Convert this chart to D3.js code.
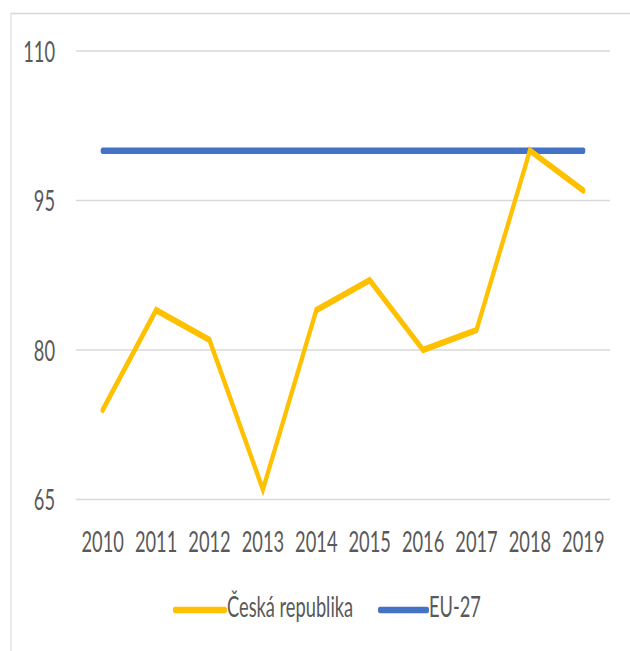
<!DOCTYPE html>
<html>
<head>
<meta charset="utf-8">
<script src="https://cdn.jsdelivr.net/npm/d3@7"></script>
<style>
  html, body { margin: 0; padding: 0; background: #fff; }
  svg { display: block; }
  text { font-family: Lato, "Liberation Sans Narrow", sans-serif; fill: #595959; }
</style>
</head>
<body>
<svg id="chart" width="630" height="651"></svg>
<script>
// Data
const years = ["2010", "2011", "2012", "2013", "2014", "2015", "2016", "2017", "2018", "2019"];
const czValues = [74, 84, 81, 66, 84, 87, 80, 82, 100, 96];
const euValues = [100, 100, 100, 100, 100, 100, 100, 100, 100, 100];
const yTicks = [65, 80, 95, 110];
const seriesNames = ["Česká republika", "EU-27"];
const seriesColors = ["#FFC000", "#4472C4"];

// The whole chart is drawn with a narrow horizontal scale, giving the condensed look
const sx = 0.63;
const W = 630, H = 651;
const px = v => v / sx;   // convert on-screen x to inner x
const fontSize = 29;

const svg = d3.select("#chart");
const root = svg.append("g").attr("transform", `scale(${sx},1)`);

// Frame
root.append("rect")
  .attr("x", px(11)).attr("y", 13.5)
  .attr("width", px(W + 20)).attr("height", H + 20)
  .attr("fill", "#fff")
  .attr("stroke", "#d9d9d9")
  .attr("stroke-width", 1.6);

const x = d3.scaleBand().domain(years).range([px(76), px(610)]).padding(0);
const y = d3.scaleLinear().domain([65, 110]).range([499.5, 51]);
const cx = d => x(d) + x.bandwidth() / 2;

// Gridlines
root.append("g").selectAll("line").data(yTicks).join("line")
  .attr("x1", px(76)).attr("x2", px(610))
  .attr("y1", d => y(d)).attr("y2", d => y(d))
  .attr("stroke", "#d9d9d9").attr("stroke-width", 1.6);

// Y axis labels
const yAxis = root.append("g")
  .attr("transform", `translate(${px(76)},0)`)
  .call(d3.axisLeft(y).tickValues(yTicks).tickSize(0).tickPadding(px(21)));
yAxis.select(".domain").remove();
yAxis.selectAll("text")
  .attr("font-size", fontSize).attr("font-family", "Lato, sans-serif")
  .attr("fill", "#595959").attr("dy", "0.35em");

// X axis labels
const xAxis = root.append("g")
  .attr("transform", `translate(0,${y(65)})`)
  .call(d3.axisBottom(x).tickSize(0).tickPadding(32));
xAxis.select(".domain").remove();
xAxis.selectAll("text")
  .attr("font-size", fontSize).attr("font-family", "Lato, sans-serif")
  .attr("fill", "#595959");

// Lines
const line = d3.line().x((d, i) => cx(years[i])).y(d => y(d));

root.append("path")
  .datum(euValues)
  .attr("d", line)
  .attr("fill", "none")
  .attr("stroke", seriesColors[1])
  .attr("stroke-width", 6.5)
  .attr("stroke-linecap", "round")
  .attr("stroke-linejoin", "round");

root.append("path")
  .datum(czValues)
  .attr("d", line)
  .attr("fill", "none")
  .attr("stroke", seriesColors[0])
  .attr("stroke-width", 6.5)
  .attr("stroke-linecap", "round")
  .attr("stroke-linejoin", "miter");

// Legend
const legendItems = [
  { name: seriesNames[0], color: seriesColors[0], x0: 175, x1: 225 },
  { name: seriesNames[1], color: seriesColors[1], x0: 380, x1: 427 }
];
const lg = root.append("g").selectAll("g").data(legendItems).join("g");
lg.append("line")
  .attr("x1", d => px(d.x0)).attr("x2", d => px(d.x1))
  .attr("y1", 610).attr("y2", 610)
  .attr("stroke", d => d.color).attr("stroke-width", 6.5)
  .attr("stroke-linecap", "round");
lg.append("text")
  .attr("x", d => px(d.x1 + 2)).attr("y", 617)
  .attr("font-size", fontSize)
  .text(d => d.name);
</script>
</body>
</html>
